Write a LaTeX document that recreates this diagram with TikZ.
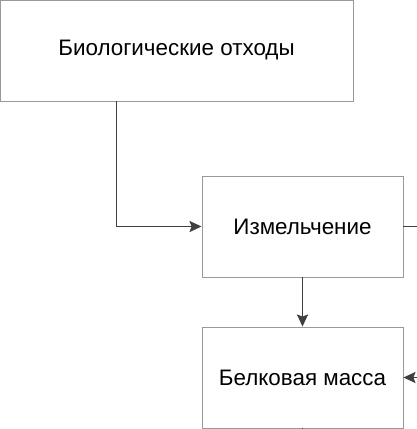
\documentclass[tikz,border=0pt]{standalone}
\usepackage{fontspec}
\setmainfont{Liberation Sans}
\usetikzlibrary{arrows.meta}

\begin{document}
\begin{tikzpicture}[x=1pt, y=1pt, every node/.style={draw=black!40,line width=0.9pt,minimum height=101pt,minimum width=201pt,align=center,font=\fontsize{22.4}{26}\selectfont}, link/.style={draw=black!75,line width=1.8pt,-{Stealth[length=12pt,width=11pt,inset=2pt]}}]
\useasboundingbox (0,0) rectangle (416,-429);
\node (bio) at (176.5,-50.5) [minimum width=353pt] {Биологические отходы};
\node (shred) at (302.5,-226.5) {Измельчение};
\node (mass) at (302.5,-377.5) {Белковая масса};
\coordinate (outa) at (430,-226.5);
\coordinate (outb) at (430,-377.5);
\coordinate (outc) at (302.5,-440);
\draw[link] ([xshift=117pt]bio.south west) |- (shred.west);
\draw[link] (shred) -- (mass);
\draw[link, -] (shred) -- (outa);
\draw[link] (outb) -- (mass);
\draw[link, -] (mass) -- (outc);
\end{tikzpicture}
\end{document}
